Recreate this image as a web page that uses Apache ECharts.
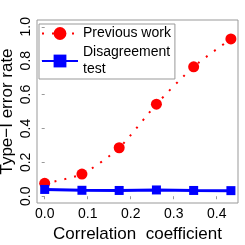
<!DOCTYPE html>
<html><head><meta charset="utf-8">
<script src="https://cdn.jsdelivr.net/npm/echarts@6/dist/echarts.min.js"></script>
<style>html,body{margin:0;padding:0;background:#fff}#c{width:245px;height:245px}</style>
</head><body><div id="c"></div>
<script>
const correlation = [0, 0.0866, 0.1732, 0.2598, 0.3464, 0.433];
const previousWork = [0.076, 0.131, 0.286, 0.543, 0.764, 0.928];
const disagreementTest = [0.040, 0.035, 0.034, 0.037, 0.034, 0.033];
const xTicks = [0, 0.1, 0.2, 0.3, 0.4];
const yTicks = [0, 0.2, 0.4, 0.6, 0.8, 1.0];
const seriesNames = ['Previous work', 'Disagreement\ntest'];

const font = 'Liberation Sans, Arial, Helvetica, sans-serif';
const chart = echarts.init(document.getElementById('c'), null, {renderer: 'canvas'});
chart.setOption({
  animation: false,
  grid: {left: 37, right: 7, top: 20, bottom: 42, show: true, borderColor: '#999', borderWidth: 1,
    backgroundColor: 'transparent', containLabel: false, outerBoundsMode: 'none'},
  legend: {
    orient: 'vertical', left: 39, top: 24,
    itemWidth: 36, itemHeight: 16, itemGap: 2,
    padding: [1, 4, 1, 2],
    borderColor: '#999', borderWidth: 1,
    data: seriesNames,
    textStyle: {fontSize: 14, lineHeight: 17, color: '#000', fontFamily: font}
  },
  xAxis: {
    type: 'value', min: -0.0179, max: 0.4495,
    name: 'Correlation  coefficient', nameLocation: 'middle', nameGap: 19,
    nameTextStyle: {fontSize: 17, color: '#000', fontFamily: font},
    axisLine: {show: false},
    axisTick: {show: true, length: 3, lineStyle: {color: '#999'}, customValues: xTicks},
    axisLabel: {fontSize: 14, color: '#000', fontFamily: font, margin: 4, customValues: xTicks,
      formatter: v => v.toFixed(1)},
    splitLine: {show: false}
  },
  yAxis: {
    type: 'value', min: -0.04, max: 1.04,
    name: 'Type\u2212I error rate', nameLocation: 'middle', nameGap: 21, nameRotate: 90,
    nameMoveOverlap: false,
    nameTextStyle: {fontSize: 17, color: '#000', fontFamily: font},
    axisLine: {show: false},
    axisTick: {show: true, length: 3, lineStyle: {color: '#999'}, customValues: yTicks},
    axisLabel: {fontSize: 14, color: '#000', fontFamily: font, margin: 4, rotate: 90, customValues: yTicks,
      formatter: v => v.toFixed(1)},
    splitLine: {show: false}
  },
  series: [
    {
      name: seriesNames[0], type: 'line', smooth: 0.25,
      data: correlation.map((x, i) => [x, previousWork[i]]),
      symbol: 'circle', symbolSize: 11,
      itemStyle: {color: '#ff0000'},
      lineStyle: {color: '#ff0000', width: 2, type: [2, 8]}
    },
    {
      name: seriesNames[1], type: 'line',
      data: correlation.map((x, i) => [x, disagreementTest[i]]),
      symbol: 'rect', symbolSize: 9,
      itemStyle: {color: '#0000ff'},
      lineStyle: {color: '#0000ff', width: 3}
    }
  ]
});
</script></body></html>
